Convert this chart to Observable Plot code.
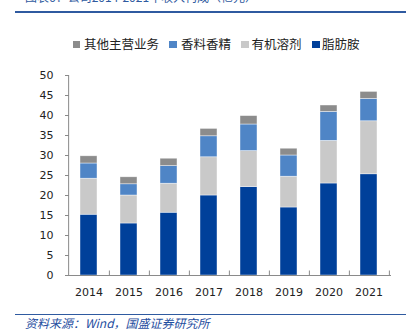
<!DOCTYPE html>
<html><head><meta charset="utf-8">
<script src="https://cdn.jsdelivr.net/npm/d3@7"></script>
<script src="https://cdn.jsdelivr.net/npm/@observablehq/plot@0.6"></script>
<style>
body{margin:0;background:#fff;}
#wrap{position:relative;width:406px;height:336px;overflow:hidden;background:#fff;font-family:"Noto Sans CJK SC",sans-serif;}
.rule{position:absolute;left:15px;right:0;background:#2f5aa0;}
#title{position:absolute;left:25px;top:-9px;font-size:12px;line-height:12px;color:#2f5aa0;white-space:nowrap;}
#legend .sw{position:absolute;width:7.5px;height:7.5px;top:40.5px;}
#legend .lb{position:absolute;top:36px;font-size:12.5px;line-height:16px;color:#222;white-space:nowrap;font-family:"Noto Sans CJK SC",serif;}
#chart{position:absolute;left:0;top:60px;}
#source{position:absolute;left:25px;top:316px;font-size:12px;line-height:14px;color:#1f4ea0;font-style:italic;white-space:nowrap;}
</style></head><body>
<div id="wrap">
  <div id="title">图表6：公司2014-2021年收入构成（亿元）</div>
  <div class="rule" style="top:10.5px;height:2px;"></div>
  <div id="legend"></div>
  <div id="chart"></div>
  <div class="rule" style="top:313.5px;height:1.2px;"></div>
  <div id="source">资料来源：Wind，国盛证券研究所</div>
</div>
<script>
const years = ["2014","2015","2016","2017","2018","2019","2020","2021"];
const fattyAmine = [15.2,13.0,15.7,20.0,22.1,17.0,23.0,25.3];
const solvent    = [9.0,7.0,7.25,9.55,9.0,7.7,10.65,13.25];
const flavor     = [3.8,2.8,4.4,5.25,6.65,5.3,7.25,5.6];
const other      = [1.8,1.75,1.85,1.85,2.1,1.7,1.6,1.75];
const seriesNames  = ["脂肪胺","有机溶剂","香料香精","其他主营业务"];
const seriesColors = ["#00409a","#c9c9c9","#4f85c6","#8c8c8c"];
const legendOrder  = ["其他主营业务","香料香精","有机溶剂","脂肪胺"];
const yTicks = [0,5,10,15,20,25,30,35,40,45,50];

const seriesValues = [fattyAmine, solvent, flavor, other];
const rows = [];
years.forEach((y,i)=>seriesNames.forEach((s,j)=>rows.push({year:y, series:s, value:seriesValues[j][i]})));

// legend
const legendPos = [[72.5,84],[169,181],[241,251.5],[312,322]];
const legend = document.getElementById("legend");
legendOrder.forEach((name,k)=>{
  const sw=document.createElement("div"); sw.className="sw";
  sw.style.left=legendPos[k][0]+"px";
  sw.style.background=seriesColors[seriesNames.indexOf(name)];
  const lb=document.createElement("div"); lb.className="lb";
  lb.style.left=legendPos[k][1]+"px"; lb.textContent=name;
  legend.appendChild(sw); legend.appendChild(lb);
});

const W=406, H=245, mL=65, mR=15, mT=15, mB=30;
const step=(W-mL-mR)/years.length;
const chart = Plot.plot({
  width:W, height:H, marginLeft:mL, marginRight:mR, marginTop:mT, marginBottom:mB,
  style:{fontFamily:"DejaVu Sans, Verdana, sans-serif", fontSize:"11px", background:"transparent", color:"#222"},
  x:{domain:years, paddingInner:0.575, paddingOuter:0.2875, axis:null, label:null},
  y:{domain:[0,50], axis:null, label:null},
  color:{domain:seriesNames, range:seriesColors},
  marks:[
    Plot.barY(rows,{x:"year", y:"value", fill:"series", order:seriesNames, stroke:"#ffffff", strokeWidth:0.6, strokeOpacity:0.7}),
    Plot.ruleY([0],{stroke:"#8a8a8a"}),
    Plot.ruleX([years[0]],{dx:-step/2, y1:0, y2:50, stroke:"#8a8a8a"}),
    Plot.tickY(yTicks,{y:d=>d, insetRight:W-mL-mR-4, stroke:"#8a8a8a"}),
    Plot.tickX(years,{x:d=>d, dx:step/2, insetTop:H-mT-mB-4.5, stroke:"#8a8a8a"}),
    Plot.axisY(yTicks,{tickSize:0, tickPadding:12, fill:"#222", label:null}),
    Plot.axisX(years,{tickSize:0, tickPadding:13, fill:"#222", label:null})
  ]
});
document.getElementById("chart").appendChild(chart);
</script>
</body></html>
